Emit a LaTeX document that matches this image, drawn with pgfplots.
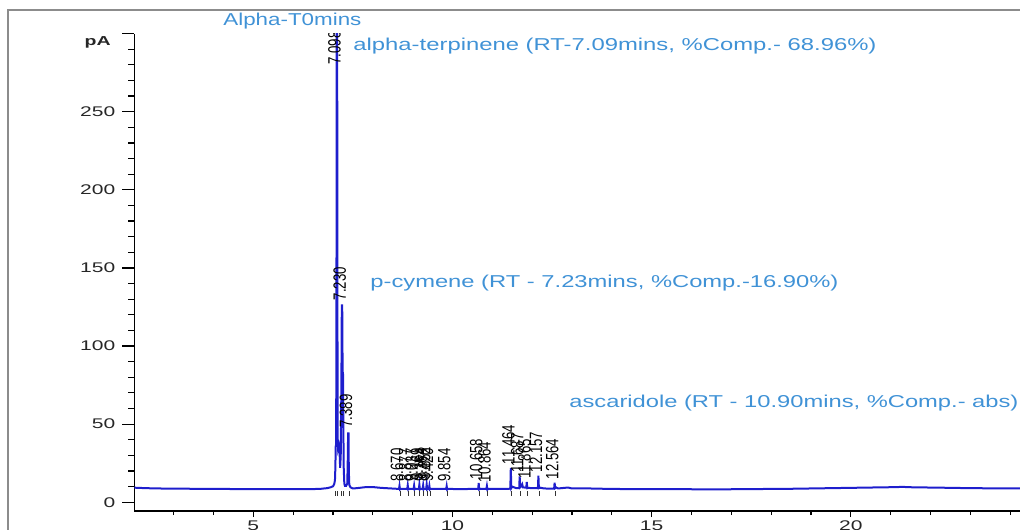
\documentclass[border=0pt]{standalone}
\usepackage{fontspec}
\setmainfont{Liberation Sans}
\usepackage{graphicx}
\usepackage{pgfplots}
\pgfplotsset{compat=1.18}
\definecolor{annot}{RGB}{64,146,214}
\definecolor{trace}{RGB}{30,30,205}
\definecolor{framegray}{RGB}{140,140,140}
\newcommand\sx[1]{\scalebox{1.5}[1]{#1}}
\newcommand\pk[1]{\scalebox{1.35}[1]{\rotatebox{90}{#1}}}
\begin{document}
\begin{tikzpicture}[x=0.5pt,y=-0.5pt]
\useasboundingbox (0,0) rectangle (1020,529);
\clip (0,0) rectangle (1020,529);
\draw[framegray, line width=1pt] (8,540) -- (8,10) -- (1030,10);
\begin{axis}[
  at={(67.15pt,-255.5pt)}, anchor=south west,
  scale only axis, width=442.8pt, height=238.7pt,
  xmin=2.013, xmax=24.244, ymin=-5.63, ymax=300,
  axis x line=bottom, axis y line=left,
  axis line style={-, black, line width=0.6pt},
  tick align=outside,
  xtick={5,10,15,20}, xticklabels={\sx{5},\sx{10},\sx{15},\sx{20}},
  minor xtick={3,4,6,7,8,9,11,12,13,14,16,17,18,19,21,22,23,24},
  ytick={0,50,100,150,200,250,300},
  yticklabels={\sx{0},\sx{50},\sx{100},\sx{150},\sx{200},\sx{250},{}},
  minor ytick={10,20,30,40,60,70,80,90,110,120,130,140,160,170,180,190,210,220,230,240,260,270,280,290},
  major tick length=6pt, minor tick length=3pt,
  xtick style={/pgfplots/major tick length=3pt,/pgfplots/minor tick length=2pt},
  tick style={black, line width=0.6pt},
  ticklabel style={font=\fontsize{7}{8}\selectfont, text=black!85},
  xticklabel style={yshift=4.5pt},
  clip=true,
]
\addplot[trace, line width=1pt] coordinates {
(2.013,9.3)(2.3,9.0)(2.6,8.8)(3.0,8.7)(3.5,8.6)(4.0,8.5)(4.5,8.45)(5.0,8.4)(5.5,8.35)(6.0,8.3)(6.3,8.3)(6.5,8.4)(6.7,8.6)(6.85,9.0)(6.95,9.6)(7.0,10.2)(7.03,11.5)(7.05,14)(7.06,22)(7.07,36)(7.08,36)(7.088,140)(7.095,330)(7.105,330)(7.112,120)(7.12,40)(7.13,34)(7.15,36)(7.165,33)(7.18,22)(7.195,30)(7.21,70)(7.222,126)(7.232,126)(7.242,84)(7.252,82)(7.26,50)(7.27,22)(7.285,12)(7.30,10.5)(7.33,10.5)(7.36,12)(7.372,28)(7.38,44)(7.39,44)(7.398,20)(7.41,11)(7.44,9.5)(7.5,8.8)(7.6,9.0)(7.8,9.6)(8.0,9.7)(8.2,9.2)(8.4,8.9)(8.6,8.6)
(8.658,8.6)(8.670,10.5)(8.682,8.2)(8.70,8.6)
(8.865,8.6)(8.877,10.8)(8.889,8.2)(8.907,8.6)
(9.025,8.6)(9.037,10.6)(9.049,8.2)(9.067,8.6)
(9.157,8.6)(9.169,11.2)(9.181,8.2)(9.199,8.6)
(9.252,8.6)(9.264,10.8)(9.276,8.2)(9.294,8.6)
(9.34,8.6)(9.352,11.4)(9.364,8.2)(9.382,8.6)
(9.408,8.6)(9.42,10.4)(9.432,8.2)(9.45,8.6)
(9.6,8.5)
(9.842,8.5)(9.854,10.3)(9.866,8.1)(9.884,8.5)
(10.2,8.4)(10.5,8.5)
(10.646,8.6)(10.658,12.3)(10.67,8.2)(10.69,8.6)
(10.852,8.5)(10.864,10.3)(10.876,8.1)(10.894,8.5)
(11.2,8.5)(11.42,8.6)
(11.452,8.8)(11.464,22)(11.476,9)(11.5,10)(11.55,9.5)(11.6,9)
(11.675,9)(11.687,16.5)(11.699,9.5)(11.72,10)(11.75,11.5)(11.77,9.5)
(11.853,9.3)(11.865,13)(11.877,9)(11.9,9.2)(12.0,9)
(12.145,9)(12.157,17)(12.169,9)(12.2,9.3)(12.3,8.8)(12.5,8.7)
(12.552,8.8)(12.564,12.5)(12.576,9)(12.6,9.5)(12.65,8.8)
(12.9,9.4)(13.0,8.8)(13.3,8.9)(13.6,8.7)(14,8.5)(14.5,8.4)(15,8.3)(15.5,8.3)(16,8.3)(16.5,8.2)(17,8.3)(17.5,8.4)(18,8.5)(18.5,8.6)(19,8.8)(19.5,9.0)(20,9.2)(20.5,9.4)(21,9.6)(21.3,9.8)(21.6,9.5)(22,9.4)(22.5,9.2)(23,9.0)(23.5,8.9)(24,8.8)(24.244,8.8)
};
\addplot[only marks, mark=|, mark size=1.2pt, black!80, mark options={line width=0.4pt}] coordinates {
(7.07,5.5)(7.12,5.5)(7.20,5.5)(7.27,5.5)(7.41,5.5)(8.69,5.5)(8.90,5.5)(9.05,5.5)(9.18,5.5)(9.28,5.5)(9.37,5.5)(9.44,5.5)(9.87,5.5)(10.67,5.5)(10.88,5.5)(11.48,5.5)(11.70,5.5)(11.88,5.5)(12.17,5.5)(12.58,5.5)
};
\begin{scope}[every node/.style={anchor=south, inner sep=0pt, xshift=-1.2pt, font=\fontsize{6.6}{7}\selectfont, text=black}]
\node at (axis cs:7.098,280) {\pk{7.098}};
\node at (axis cs:7.230,129) {\pk{7.230}};
\node at (axis cs:7.389,47.5) {\pk{7.389}};
\node at (axis cs:8.670,13) {\pk{8.670}};
\node at (axis cs:8.877,13) {\pk{8.877}};
\node at (axis cs:9.037,13) {\pk{9.037}};
\node at (axis cs:9.169,13.5) {\pk{9.169}};
\node at (axis cs:9.264,13) {\pk{9.264}};
\node at (axis cs:9.352,14) {\pk{9.352}};
\node at (axis cs:9.420,13) {\pk{9.420}};
\node at (axis cs:9.854,13) {\pk{9.854}};
\node at (axis cs:10.658,14.5) {\pk{10.658}};
\node at (axis cs:10.864,12.5) {\pk{10.864}};
\node at (axis cs:11.464,24) {\pk{11.464}};
\node at (axis cs:11.687,18.5) {\pk{11.687}};
\node at (axis cs:11.865,15) {\pk{11.865}};
\node at (axis cs:12.157,19) {\pk{12.157}};
\node at (axis cs:12.564,14.5) {\pk{12.564}};
\end{scope}
\end{axis}
\node[anchor=east, inner sep=0pt, font=\bfseries\fontsize{6.5}{7}\selectfont, text=black!85] at (111,42) {\sx{pA}};
\begin{scope}[every node/.style={anchor=west, inner sep=0pt, text=annot, font=\fontsize{8.6}{10}\selectfont}]
\node at (223,21) {\resizebox{69pt}{\height}{Alpha-T0mins}};
\node at (353,46) {\resizebox{261.5pt}{\height}{alpha-terpinene (RT-7.09mins, \%Comp.- 68.96\%)}};
\node at (370,283) {\resizebox{234pt}{\height}{p-cymene (RT - 7.23mins, \%Comp.-16.90\%)}};
\node at (569,403) {\resizebox{224.5pt}{\height}{ascaridole (RT - 10.90mins, \%Comp.- abs)}};
\end{scope}
\end{tikzpicture}
\end{document}
